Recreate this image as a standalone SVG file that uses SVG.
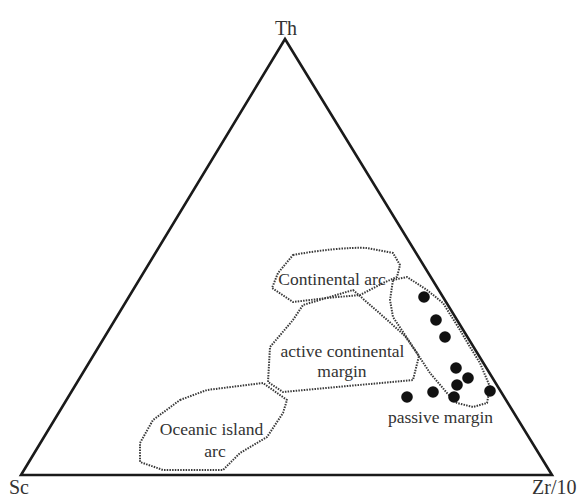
<svg xmlns="http://www.w3.org/2000/svg" width="583" height="499" viewBox="0 0 583 499">
<style>
.lbl{font-family:"Liberation Serif","Times New Roman",serif;fill:#333;}
.axis{font-size:20px;}
.fld{font-size:17.5px;text-anchor:middle;}
.field{fill:none;stroke:#3a3a3a;stroke-width:2;stroke-dasharray:1.5 1.2;stroke-linejoin:round;}
.dot{fill:#111;}
</style>
<g id="triangle">
<polygon points="285,39 552,475 21,475" fill="none" stroke="#1a1a1a" stroke-width="2.6" stroke-linejoin="miter"/>
<text class="lbl axis" x="286" y="35" text-anchor="middle">Th</text>
<text class="lbl axis" x="9" y="494">Sc</text>
<text class="lbl axis" x="532" y="494">Zr/10</text>
</g>
<g id="continental-arc">
<path class="field" d="M293,255 C320,250 350,247 367,248 L393,253 L400,265 L397,277 L383,283 L360,295 L327,298 L293,302 L272,288 L278,273 Z"/>
<text class="lbl fld" x="332" y="285">Continental arc</text>
</g>
<g id="active-continental-margin">
<path class="field" d="M353,290 L385,318 L405,336 L419,356 L413,380 L283,392 L268,382 L270,347 L293,320 L303,305 Z"/>
<text class="lbl fld" x="342.5" y="357">active continental</text>
<text class="lbl fld" x="342" y="377">margin</text>
</g>
<g id="oceanic-island-arc">
<path class="field" d="M180,400 L207,390 L263,383 L287,400 L283,413 L267,437 L240,453 L223,470 L163,470 L140,462 L140,443 L153,420 Z"/>
<text class="lbl fld" x="211.5" y="435">Oceanic island</text>
<text class="lbl fld" x="215" y="457">arc</text>
</g>
<g id="passive-margin">
<path class="field" d="M393,280 L407,277 L427,290 L443,303 L460,330 L470,347 L480,363 L490,387 L487,403 L473,407 L457,403 L447,393 L430,373 L413,347 L393,317 L390,300 Z"/>
<text class="lbl fld" x="440.5" y="423">passive margin</text>
</g>
<g id="samples">
<circle class="dot" cx="424" cy="297" r="5.8"/>
<circle class="dot" cx="436" cy="320" r="5.8"/>
<circle class="dot" cx="445" cy="337" r="5.8"/>
<circle class="dot" cx="456" cy="368" r="5.8"/>
<circle class="dot" cx="468" cy="378" r="5.8"/>
<circle class="dot" cx="457" cy="385" r="5.8"/>
<circle class="dot" cx="433" cy="392" r="5.8"/>
<circle class="dot" cx="407" cy="397" r="5.8"/>
<circle class="dot" cx="454" cy="397" r="5.8"/>
<circle class="dot" cx="490" cy="391" r="5.8"/>
</g>
</svg>
